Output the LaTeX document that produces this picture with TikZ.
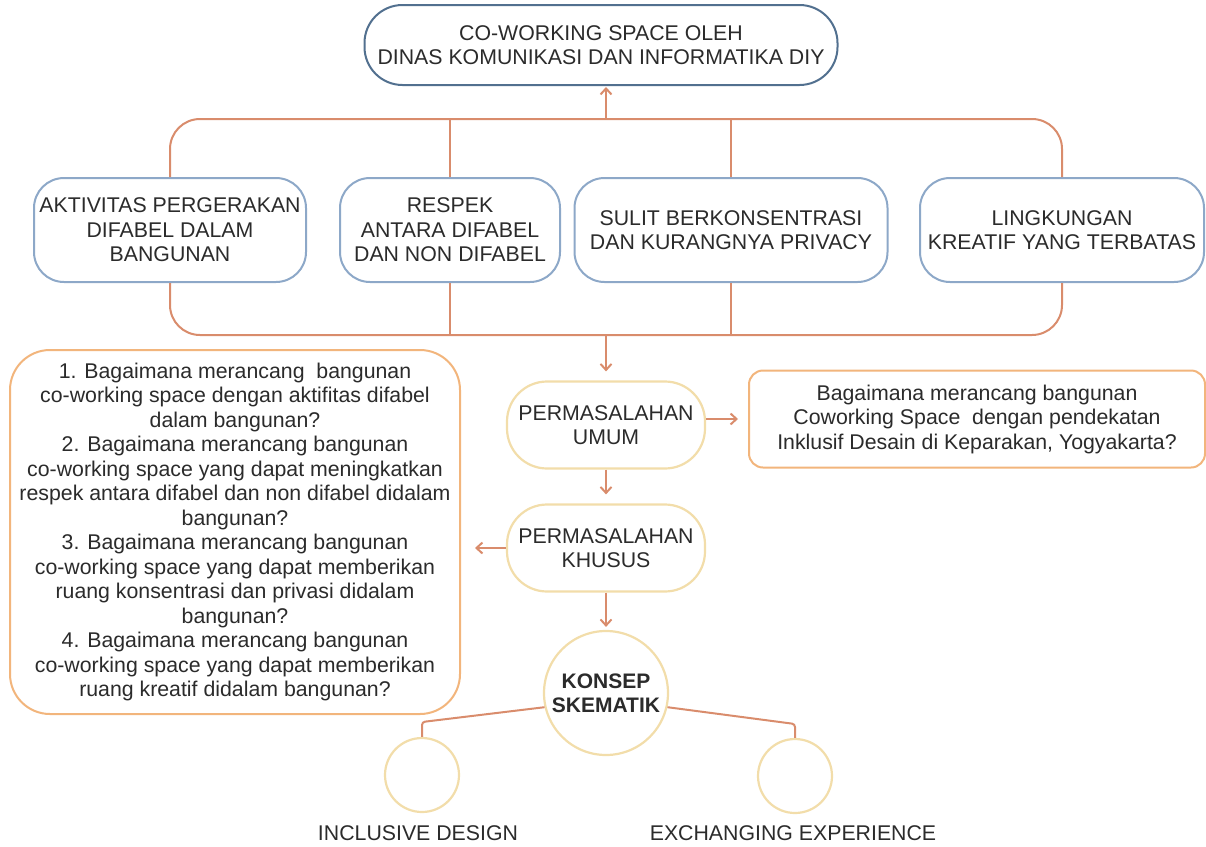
\documentclass[tikz,border=0pt]{standalone}
\usepackage{fontspec}
\setmainfont{Liberation Sans}
\usetikzlibrary{arrows.meta}
\definecolor{topblue}{HTML}{52708F}
\definecolor{boxblue}{HTML}{8DA8C8}
\definecolor{conn}{HTML}{D98C6C}
\definecolor{qorange}{HTML}{F2B57C}
\definecolor{tan}{HTML}{F2DDAA}
\definecolor{txt}{HTML}{2B2B2B}
\begin{document}
\begin{tikzpicture}[x=1pt,y=-1pt,
  every node/.style={text=txt,font=\fontsize{21.3}{24.5}\selectfont,align=center,inner sep=0pt},
  bluebox/.style={draw=boxblue,line width=2pt,fill=white,rounded corners=30pt,minimum height=104pt},
  pill/.style={draw=tan,line width=2.2pt,fill=white,rounded corners=40pt,minimum width=198pt,minimum height=87pt},
  qbox/.style={draw=qorange,line width=2pt,fill=white},
  ring/.style={draw=tan,line width=2.2pt,fill=white,circle},
  link/.style={draw=conn,line width=2pt},
  arr/.style={link,-{Straight Barb[length=6pt,width=11pt,line width=2pt]}}
]
\useasboundingbox (0,0) rectangle (1206,846);

% top
\node[draw=topblue,line width=2pt,fill=white,rounded corners=38pt,minimum width=473pt,minimum height=80pt] (top) at (601,45) {CO-WORKING SPACE OLEH\\DINAS KOMUNIKASI DAN INFORMATIKA DIY};

% four boxes
\node[bluebox,minimum width=272pt] (b1) at (170,230) {AKTIVITAS PERGERAKAN\\DIFABEL DALAM\\BANGUNAN};
\node[bluebox,minimum width=220pt] (b2) at (450,230) {RESPEK\\ANTARA DIFABEL\\DAN NON DIFABEL};
\node[bluebox,minimum width=313pt] (b3) at (731,230) {SULIT BERKONSENTRASI\\DAN KURANGNYA PRIVACY};
\node[bluebox,minimum width=284pt] (b4) at (1062,230) {LINGKUNGAN\\KREATIF YANG TERBATAS};

% brackets
\coordinate (tl) at (170,119);
\coordinate (tr) at (1062,119);
\coordinate (bl) at (170,335);
\coordinate (br) at (1062,335);
\coordinate (tj) at (606,119);
\coordinate (bj) at (606,335);
\draw[link,rounded corners=30pt] (b1.north) -- (tl) -- (tr) -- (b4.north);
\draw[link,rounded corners=30pt] (b1.south) -- (bl) -- (br) -- (b4.south);
\draw[link] (b2.north) -- (b2.north |- tl);
\draw[link] (b3.north) -- (b3.north |- tl);
\draw[link] (b2.south) -- (b2.south |- bl);
\draw[link] (b3.south) -- (b3.south |- bl);
\draw[arr,shorten >=1pt] (tj) -- (top.south -| tj);

% middle column
\node[pill] (um) at (606,425) {PERMASALAHAN\\UMUM};
\node[pill] (kh) at (606,548) {PERMASALAHAN\\KHUSUS};
\node[qbox,rounded corners=14pt,minimum width=456pt,minimum height=97pt] (rq) at (977,419) {Bagaimana merancang bangunan\\Coworking Space\ \ dengan pendekatan\\Inklusif Desain di Keparakan, Yogyakarta?};
\node[qbox,rounded corners=40pt,minimum width=450pt,minimum height=364pt] (qb) at (235,532) {%
1. Bagaimana merancang\ \ bangunan\\
co-working space dengan aktifitas difabel\\
dalam bangunan?\\
2. Bagaimana merancang bangunan\\
co-working space yang dapat meningkatkan\\
respek antara difabel dan non difabel didalam\\
bangunan?\\
3. Bagaimana merancang bangunan\\
co-working space yang dapat memberikan\\
ruang konsentrasi dan privasi didalam\\
bangunan?\\
4. Bagaimana merancang bangunan\\
co-working space yang dapat memberikan\\
ruang kreatif didalam bangunan?};

\node[ring,minimum size=124pt,font=\bfseries\fontsize{21}{24}\selectfont] (ks) at (606,693) {KONSEP\\SKEMATIK};
\node[ring,minimum size=74pt] (c1) at (422,775) {};
\node[ring,minimum size=74pt] (c2) at (795,776) {};
\node (l1) at (418,833) {INCLUSIVE DESIGN};
\node (l2) at (793,833) {EXCHANGING EXPERIENCE};

\draw[arr,shorten >=9pt] (bj) -- (um.north);
\draw[arr,shorten >=10pt] (um.east |- rq.west) -- (rq.west);
\draw[arr,shorten >=9pt] (um.south) -- (kh.north);
\draw[arr,shorten >=14pt] (kh.west) -- (qb.east |- kh.west);
\draw[arr,shorten >=3pt] (kh.south) -- (ks.north);
\draw[link,rounded corners=3pt] (ks.193) -- (422,722) -- (c1.north);
\draw[link,rounded corners=3pt] (ks.347) -- (795,724) -- (c2.north);
\end{tikzpicture}
\end{document}
